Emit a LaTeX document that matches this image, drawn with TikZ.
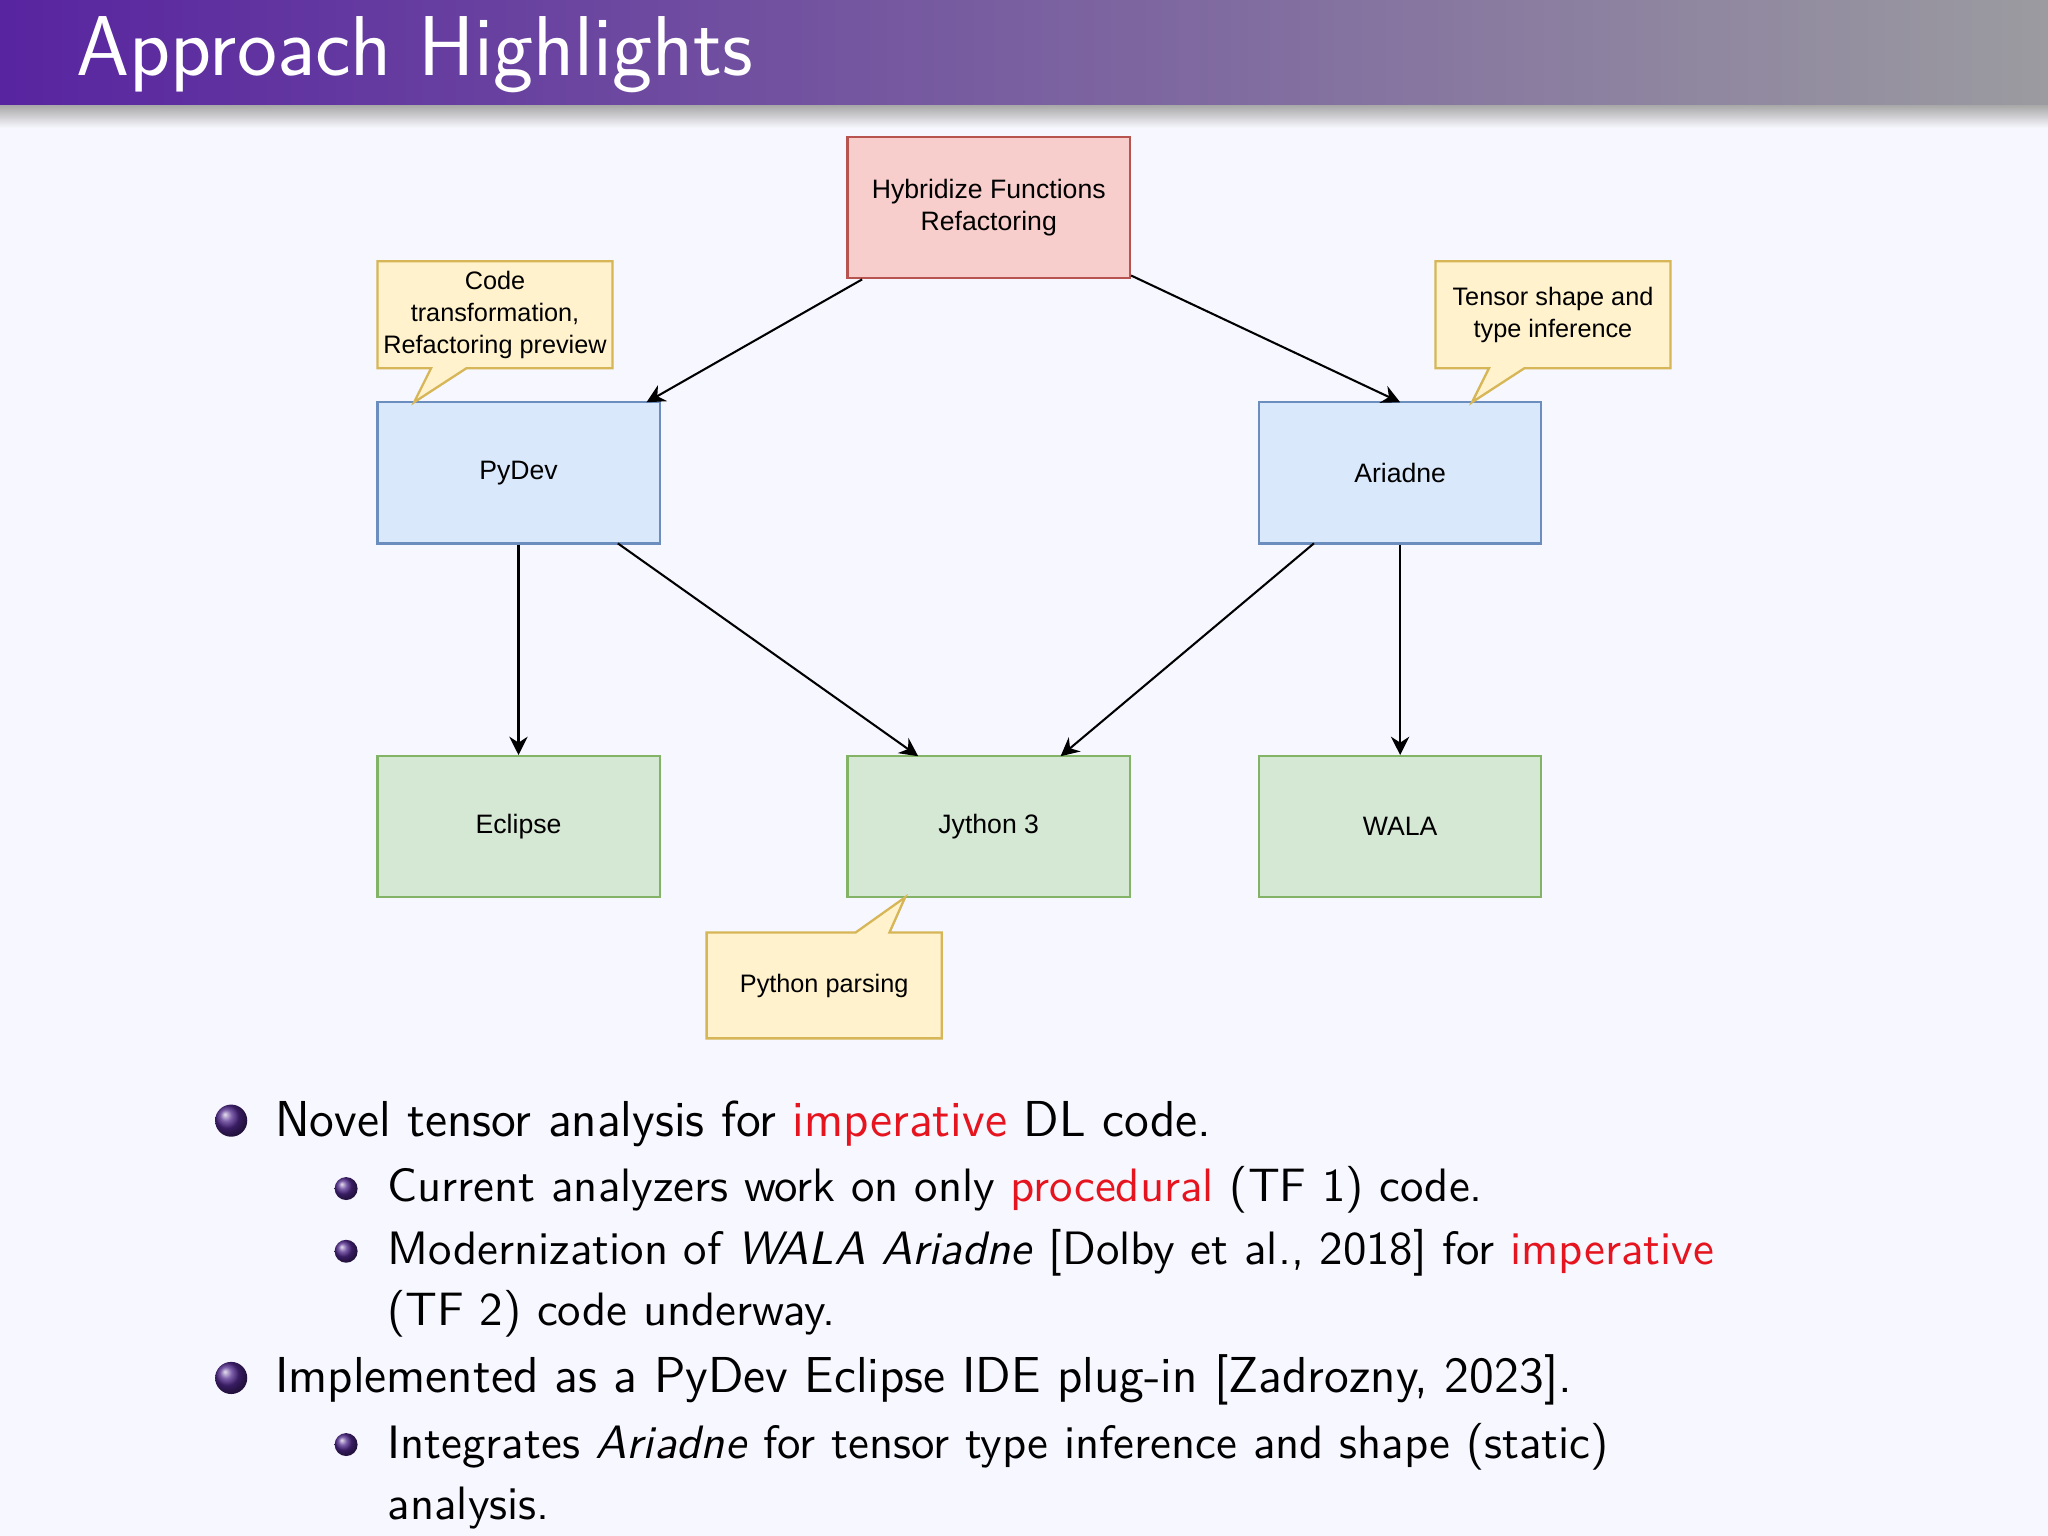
\documentclass[tikz,border=0pt]{standalone}
\usepackage{fontspec}
\newfontfamily\arial{Liberation Sans}
\usetikzlibrary{arrows.meta}
\definecolor{redx}{RGB}{230,20,30}
\begin{document}
\begin{tikzpicture}[x=0.01cm,y=-0.01cm,
 box/.style={draw,line width=0.5pt,minimum width=2.16cm,minimum height=1.08cm,font=\arial\fontsize{5.8}{7}\selectfont,align=center,inner sep=0},
 pink/.style={box,fill={rgb,255:red,248;green,206;blue,204},draw={rgb,255:red,184;green,84;blue,80}},
 blue/.style={box,fill={rgb,255:red,218;green,232;blue,252},draw={rgb,255:red,108;green,142;blue,191}},
 green/.style={box,fill={rgb,255:red,213;green,232;blue,212},draw={rgb,255:red,130;green,179;blue,102}},
 call/.style={fill={rgb,255:red,255;green,242;blue,204},draw={rgb,255:red,214;green,182;blue,86},line width=0.5pt},
 ctext/.style={font=\arial\fontsize{5.5}{7}\selectfont,align=center,inner sep=0},
 arr/.style={-{Stealth[length=4pt,width=4pt]},line width=0.45pt},
 btxt/.style={anchor=base west,inner sep=0,font=\sffamily\fontsize{11}{13}\selectfont},
 stxt/.style={anchor=base west,inner sep=0,font=\sffamily\fontsize{10.2}{12}\selectfont},
 ball/.style={circle,inner sep=0,minimum size=#1,shading=ball,ball color={rgb,255:red,80;green,40;blue,140}}]
\useasboundingbox (0,0) rectangle (1568,1176);
\fill[white!97!blue] (0,0) rectangle (1568,1176);
\shade[top color=black!35,bottom color=white!97!blue] (0,80) rectangle (1568,98);
\shade[left color={rgb,255:red,88;green,36;blue,160},right color={rgb,255:red,155;green,155;blue,160}] (0,0) rectangle (1568,80);
\node[anchor=base west,inner sep=0,text=white,font=\sffamily\fontsize{18.5}{20}\selectfont] (title) at (58,58) {Approach Highlights};
% boxes
\node[pink] (h) at (757,159) {Hybridize Functions\\Refactoring};
\node[blue] (p) at (397,362) {PyDev};
\node[blue] (a) at (1072,362) {Ariadne};
\node[green] (e) at (397,633) {Eclipse};
\node[green] (j) at (757,633) {Jython 3};
\node[green] (w) at (1072,633) {WALA};
% callouts
\draw[call] (289,200) -- (469,200) -- (469,282) -- (357,282) -- (317,308) -- (330,282) -- (289,282) -- cycle;
\node[ctext] (c1) at (379,241) {Code\\transformation,\\Refactoring preview};
\draw[call] (1099,200) -- (1279,200) -- (1279,282) -- (1167,282) -- (1127,308) -- (1140,282) -- (1099,282) -- cycle;
\node[ctext] (c2) at (1189,241) {Tensor shape and\\type inference};
\draw[call] (541,714) -- (655,714) -- (693,687) -- (681,714) -- (721,714) -- (721,795) -- (541,795) -- cycle;
\node[ctext] (c3) at (631,755) {Python parsing};
% arrows
\draw[arr] (h.south west)++(12,0) coordinate (h1) -- (495,308) coordinate (p1);
\draw[arr] (h.south east)++(0,-3) -- (1072,308) coordinate (a1);
\draw[arr] (p.south) -- (e.north);
\draw[arr] (473,416) coordinate (p2) -- (703,579) coordinate (j1);
\draw[arr] (1006,416) coordinate (a2) -- (812,579) coordinate (j2);
\draw[arr] (a.south) -- (w.north);
% bullets
\node[ball=7pt] (b1) at (177,858) {};
\node[btxt] (t1) at (210,870) {Novel tensor analysis for \textcolor{redx}{imperative} DL code.};
\node[ball=5pt] (b2) at (265,910) {};
\node[stxt] (t2) at (296,920) {Current analyzers work on only \textcolor{redx}{procedural} (TF 1) code.};
\node[ball=5pt] (b3) at (265,958) {};
\node[stxt] (t3) at (296,968) {Modernization of \textit{WALA Ariadne} [Dolby et al., 2018] for \textcolor{redx}{imperative}};
\node[stxt] (t4) at (296,1015) {(TF 2) code underway.};
\node[ball=7pt] (b4) at (177,1055) {};
\node[btxt] (t5) at (210,1066) {Implemented as a PyDev Eclipse IDE plug-in [Zadrozny, 2023].};
\node[ball=5pt] (b5) at (265,1106) {};
\node[stxt] (t6) at (296,1117) {Integrates \textit{Ariadne} for tensor type inference and shape (static)};
\node[stxt] (t7) at (296,1163) {analysis.};
\end{tikzpicture}
\end{document}
